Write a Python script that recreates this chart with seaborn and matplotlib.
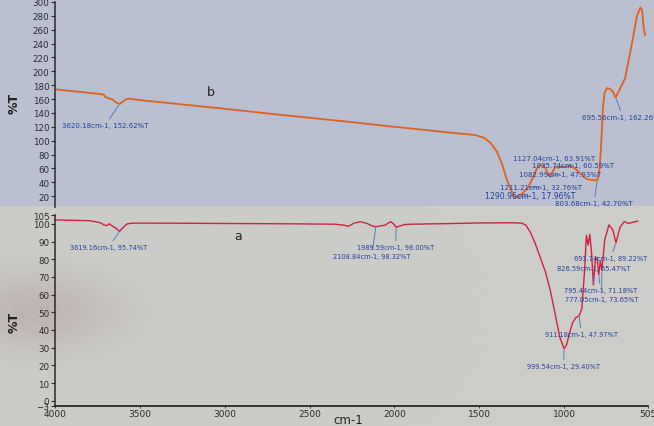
import numpy as np
import pandas as pd
import matplotlib
matplotlib.use("Agg")
import matplotlib.pyplot as plt
import seaborn as sns

# ---- spectrum b (upper panel) ----
wn_b = [4000, 3900, 3800, 3740, 3715, 3700, 3685, 3665, 3645, 3620.18, 3600, 3580,
        3560, 3500, 3200, 3000, 2700, 2500, 2300, 2000, 1800, 1650, 1580, 1520,
        1470, 1430, 1395, 1365, 1340, 1315, 1290.96, 1270, 1245, 1211.21, 1185,
        1160, 1140, 1127.04, 1110, 1095, 1082.99, 1068, 1050, 1035.74, 1015, 990,
        965, 935, 905, 880, 860, 840, 820, 803.68, 790, 780, 770, 760, 745, 725,
        710, 695.56, 670, 640, 600, 570, 550, 540, 530, 522]
t_b = [174, 171.5, 169, 167.5, 166.5, 162.5, 161, 160, 156, 152.62, 156.5, 160,
       160.5, 158.5, 151, 146, 138, 133, 128, 120, 115, 111, 109.5, 108,
       104, 96, 84, 66, 46, 30, 17.96, 19, 24, 32.76, 46,
       60, 65.5, 63.91, 61, 52, 47.93, 55, 62.5, 60.59, 63, 62,
       63, 60, 53, 47, 44, 43.5, 43, 42.70, 60, 100, 150, 170, 176, 174,
       170, 162.26, 175, 190, 240, 280, 292, 288, 262, 252]
peaks_b = [3620.18, 1290.96, 1211.21, 1127.04, 1082.99, 1035.74, 803.68, 695.56]

# ---- spectrum a (lower panel) ----
wn_a = [4000, 3900, 3800, 3760, 3730, 3710, 3695, 3680, 3660, 3640, 3619.16, 3600,
        3575, 3540, 3400, 3000, 2600, 2350, 2300, 2270, 2240, 2200, 2160, 2130,
        2108.84, 2080, 2055, 2035, 2020, 2000, 1989.59, 1970, 1940, 1900, 1700,
        1500, 1300, 1250, 1225, 1200, 1170, 1140, 1110, 1080, 1050, 1025, 999.54,
        985, 968, 950, 930, 911.18, 895, 880, 868, 858, 848, 838, 826.59, 815,
        805, 795.44, 786, 777.05, 760, 735, 712, 693.74, 670, 645, 620, 590, 565]
t_a = [102.2, 102.0, 101.8, 101.2, 100.5, 99.3, 99.0, 100.0, 98.6, 97.5, 95.74, 97.8,
       100.0, 100.4, 100.4, 100.2, 100.0, 99.8, 99.3, 98.6, 100.3, 101.2, 100.2, 98.8,
       98.32, 98.9, 99.2, 100.5, 101.2, 99.5, 98.00, 98.7, 99.6, 99.8, 100.1,
       100.5, 100.6, 100.4, 99.3, 95.5, 89, 81, 73, 62, 48, 36, 29.40,
       31.5, 38, 44, 47, 47.97, 52, 72, 93.5, 88, 94, 84, 65.47, 80,
       81, 71.18, 79, 73.65, 91, 99.4, 96.5, 89.22, 98, 101.3, 100.2, 101, 101.5]
peaks_a = [3619.16, 2108.84, 1989.59, 999.54, 911.18, 826.59, 795.44, 777.05, 693.74]

x_ticks = [4000, 3500, 3000, 2500, 2000, 1500, 1000, 505]
y_ticks_b = list(range(20, 301, 20))
y_ticks_a = [-3, 0, 10, 20, 30, 40, 50, 60, 70, 80, 90, 100, 105]

df_b = pd.DataFrame({"wn": wn_b, "T": t_b})
df_a = pd.DataFrame({"wn": wn_a, "T": t_a})

sns.set_theme(style="white")
plt.rcParams["font.family"] = ["DejaVu Sans"]

W, H = 654, 427
fig = plt.figure(figsize=(W / 100, H / 100), dpi=100)

# paper backdrop: two sheets, the lower one with a faint stain on the left
yy, xx = np.mgrid[0:H, 0:W]
img = np.empty((H, W, 3))
img[:] = np.array([204, 204, 201]) / 255
stain = 0.42 * np.exp(-(((xx - 35) / 75.0) ** 2 + ((yy - 312) / 36.0) ** 2))
brown = np.array([168, 148, 142]) / 255
img = img * (1 - stain[..., None]) + brown * stain[..., None]
img[:207] = np.array([187, 192, 209]) / 255
bg = fig.add_axes([0, 0, 1, 1], zorder=0)
bg.imshow(img, aspect="auto", extent=[0, 1, 0, 1])
bg.axis("off")

left, right = 55, 648
ax_b = fig.add_axes([left / W, (H - 211) / H, (right - left) / W, 208 / H], zorder=1)
ax_a = fig.add_axes([left / W, (H - 407) / H, (right - left) / W, 191 / H], zorder=2)

sns.lineplot(data=df_b, x="wn", y="T", ax=ax_b, color="#e0621f", lw=1.3,
             estimator=None, sort=False)
sns.lineplot(data=df_a, x="wn", y="T", ax=ax_a, color="#cf2240", lw=1.0,
             estimator=None, sort=False)

for ax in (ax_b, ax_a):
    ax.set_facecolor("none")
    ax.set_xlim(4000, 505)
    ax.set_xlabel("")
    ax.set_ylabel("")
    for s in ("top", "right"):
        ax.spines[s].set_visible(False)
    ax.spines["left"].set_color("#2a2a2a")
    ax.spines["left"].set_linewidth(1.1)
    ax.tick_params(axis="y", which="both", left=True, direction="out", length=3,
                   width=0.8, color="#2a2a2a", labelsize=6.3, labelcolor="#2a2a2a", pad=1)

ax_b.set_ylim(0, 300)
ax_b.set_yticks(y_ticks_b)
ax_b.spines["bottom"].set_visible(False)
ax_b.spines["left"].set_bounds(5, 300)
ax_b.tick_params(axis="x", bottom=False, labelbottom=False)

ax_a.set_ylim(-3, 105)
ax_a.set_yticks(y_ticks_a)
ax_a.set_xticks(x_ticks)
ax_a.set_xticklabels([str(v) for v in x_ticks])
ax_a.spines["bottom"].set_color("#1a1a1a")
ax_a.spines["bottom"].set_linewidth(1.2)
ax_a.tick_params(axis="x", bottom=True, direction="out", length=1.5, width=0.6,
                 labelsize=6.5, labelcolor="#2a2a2a", pad=1)

fig.text(14 / W, 1 - 103 / H, "%T", rotation=90, fontsize=9, fontweight="bold",
         ha="center", va="center", color="#222222")
fig.text(14 / W, 1 - 322 / H, "%T", rotation=90, fontsize=9, fontweight="bold",
         ha="center", va="center", color="#222222")
fig.text(348 / W, 1 - 421 / H, "cm-1", fontsize=8.5, ha="center", va="center",
         color="#222222")
fig.text(211 / W, 1 - 92 / H, "b", fontsize=9, ha="center", va="center", color="#222222")
fig.text(238 / W, 1 - 237 / H, "a", fontsize=9, ha="center", va="center", color="#222222")

# peak labels: (left edge, centre) of each label in figure pixels from top-left
text_pos_b = {3620.18: (62, 126), 1290.96: (485, 197), 1211.21: (500, 188),
              1127.04: (513, 159), 1082.99: (519, 175), 1035.74: (532, 166),
              803.68: (555, 204), 695.56: (582, 118)}
text_pos_a = {3619.16: (70, 248), 2108.84: (333, 257), 1989.59: (357, 248),
              999.54: (527, 367), 911.18: (545, 335), 826.59: (557, 269),
              795.44: (564, 291), 777.05: (565, 300), 693.74: (574, 259)}

navy = "#23409a"
lead = "#4d6cc0"


def label_peaks(ax, wn, tv, peaks, pos, size=5.0, big=None):
    for p in peaks:
        v = tv[wn.index(p)]
        tx, ty = pos[p]
        ax.annotate(f"{p:.2f}cm-1, {v:.2f}%T", xy=(p, v), xytext=(tx, H - ty),
                    textcoords="figure pixels", ha="left", va="center",
                    fontsize=5.6 if p == big else size, color=navy,
                    arrowprops=dict(arrowstyle="-", color=lead, lw=0.6,
                                    shrinkA=0, shrinkB=1), annotation_clip=False)


label_peaks(ax_b, wn_b, t_b, peaks_b, text_pos_b, big=1290.96)
label_peaks(ax_a, wn_a, t_a, peaks_a, text_pos_a, size=4.8)

fig.savefig("out.png", dpi=100)
